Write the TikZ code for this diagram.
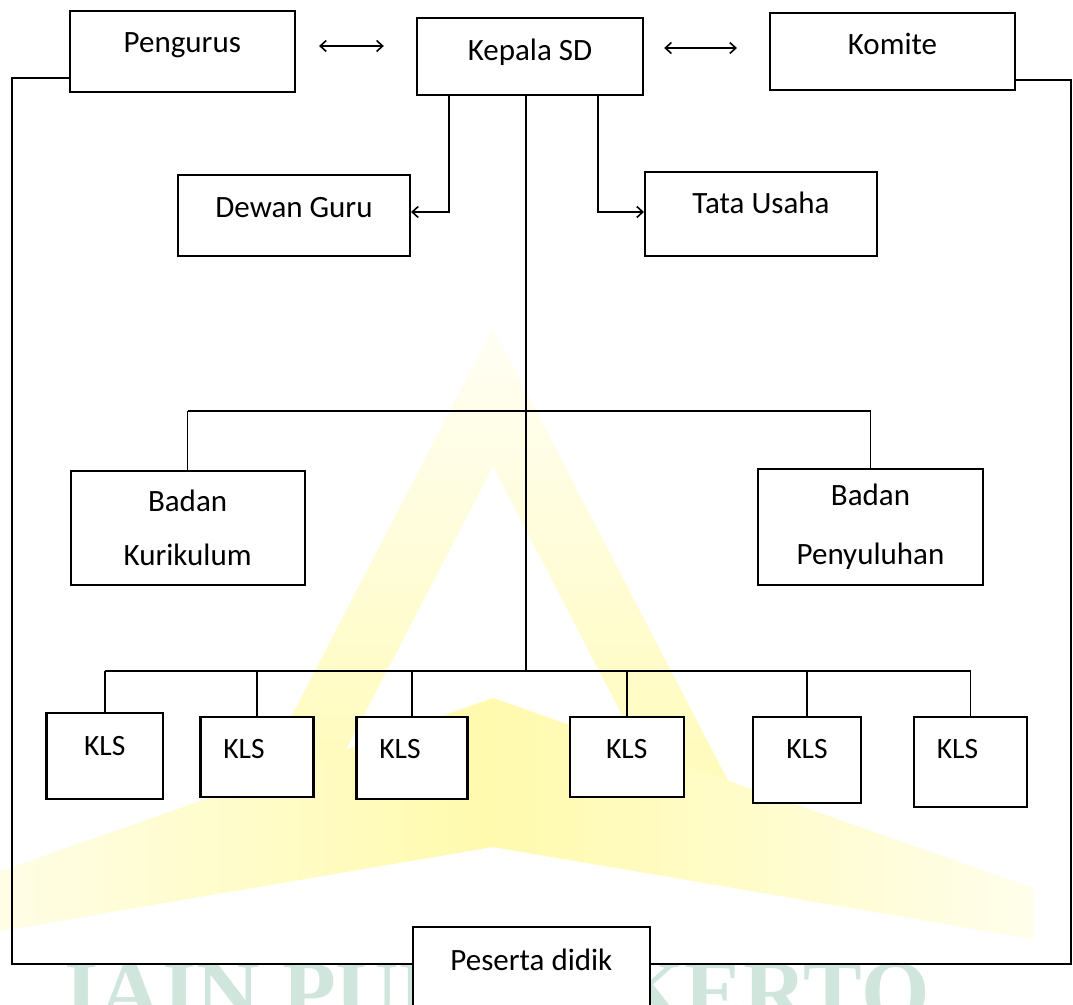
\documentclass[tikz,border=0pt]{standalone}
\usepackage{fontspec}
\setmainfont{Carlito}
\newfontfamily\wmfont{Liberation Serif}
\usetikzlibrary{arrows.meta,calc}
\definecolor{wmyel}{RGB}{255,240,0}
\definecolor{wmteal}{RGB}{208,230,221}
\begin{document}
\begin{tikzpicture}[x=1pt,y=-1pt,
  box/.style={draw, line width=2.1pt, fill=white, inner sep=0pt, font=\fontsize{31}{36}\selectfont},
  onel/.style={box, text height=20pt},
  klsbox/.style={box, font=\fontsize{29.5}{34}\selectfont, text height=20pt},
  conn/.style={line width=1.6pt},
  outer/.style={line width=2.4pt},
  arr/.style={conn, -{Straight Barb[length=6pt,width=11pt]}},
  darr/.style={conn, {Straight Barb[length=6pt,width=11pt]}-{Straight Barb[length=6pt,width=11pt]}}]

\fill[white] (0,0) rectangle (1073,1004);
\useasboundingbox (0,0) rectangle (1073,1004);
\clip (0,0) rectangle (1073,1004);

% watermark
\shade[top color=wmyel!4, bottom color=wmyel!30] (493,328) -- (763,848) -- (691,848) -- (493,466) -- (295,848) -- (223,848) -- cycle;
\shade[left color=wmyel!8, right color=wmyel!8, middle color=wmyel!32] (493,698) -- (1033,888) -- (1033,939) -- (493,847) -- (-47,939) -- (-47,888) -- cycle;
\node[text=wmteal, font=\wmfont\bfseries\fontsize{88}{90}\selectfont, inner sep=0pt, anchor=base] (wm) at (497,1021) {IAIN PURWOKERTO};

% boxes
\node[onel, minimum width=225.4pt, minimum height=81pt, text depth=18pt] (peng) at (182.3,51.5) {Pengurus};
\node[onel, minimum width=226.3pt, minimum height=77pt, text depth=13pt] (kep) at (530,56.5) {Kepala SD};
\node[onel, minimum width=245pt, minimum height=77pt, text depth=14pt] (kom) at (892.5,51.5) {Komite};
\node[onel, minimum width=232pt, minimum height=81pt, text depth=17pt] (dewan) at (294,215.5) {Dewan Guru};
\node[onel, minimum width=232pt, minimum height=84pt, text depth=22pt] (tata) at (761,214) {Tata Usaha};
\node[box, align=center, font=\fontsize{31}{54}\selectfont, minimum width=234pt, minimum height=114pt] (badk) at (187.6,528) {Badan\\Kurikulum};
\node[box, align=center, font=\fontsize{31}{59}\selectfont, minimum width=225pt, minimum height=116pt] (badp) at (870.5,527) {Badan\\Penyuluhan};

\node[klsbox, minimum width=116.5pt, minimum height=86pt, text depth=21pt] (k1) at (104.75,756) {KLS};
\node[klsbox, minimum width=113pt, minimum height=80pt, text depth=17pt] (k2) at (257,757) {KLS\hspace*{26pt}};
\node[klsbox, minimum width=111pt, minimum height=82pt, text depth=19pt] (k3) at (412,758) {KLS\hspace*{24pt}};
\node[klsbox, minimum width=114.3pt, minimum height=80pt, text depth=17pt] (k4) at (626.7,757) {KLS};
\node[klsbox, minimum width=108pt, minimum height=86pt, text depth=23pt] (k5) at (807,760) {KLS};
\node[klsbox, minimum width=112.3pt, minimum height=90pt, text depth=27pt] (k6) at (970.5,762) {KLS\hspace*{26pt}};

\node[onel, minimum width=237.3pt, minimum height=103pt, text depth=37pt] (pes) at (531.4,978.5) {Peserta didik};

% helper coordinates
\coordinate (ya) at (0,46);
\coordinate (yb) at (0,48);
\coordinate (dg) at (449,212);
\coordinate (tu) at (598,212);
\coordinate (cb) at (526,672);
\coordinate (bb) at (0,411);
\coordinate (kb) at (0,671);
\coordinate (ol) at (12,78);
\coordinate (olb) at (12,964);
\coordinate (orr) at (1071,80);
\coordinate (orb) at (1071,964);

% connectors
\draw[darr, shorten <=23pt, shorten >=32pt] (peng.east |- ya) -- (kep.west |- ya);
\draw[darr, shorten <=20pt, shorten >=32pt] (kep.east |- yb) -- (kom.west |- yb);
\draw[arr] (kep.south -| dg) -- (dg) -- (dewan.east |- dg);
\draw[arr] (kep.south -| tu) -- (tu) -- (tata.west |- tu);
\draw[conn] (kep.south -| cb) -- (cb);
\draw[conn] (badk.north |- bb) -- (badp.north |- bb);
\draw[conn] (badk.north |- bb) -- (badk.north);
\draw[conn] (badp.north |- bb) -- (badp.north);
\draw[conn] (k1.north |- kb) -- (k6.north |- kb);
\foreach \k in {k1,k2,k3,k4,k5,k6}{
  \draw[conn] (\k.north |- kb) -- (\k.north);
}
\draw[outer] (peng.west |- ol) -- (ol) -- (olb) -- (pes.west |- olb);
\draw[outer] (kom.east |- orr) -- (orr) -- (orb) -- (pes.east |- orb);
\end{tikzpicture}
\end{document}
